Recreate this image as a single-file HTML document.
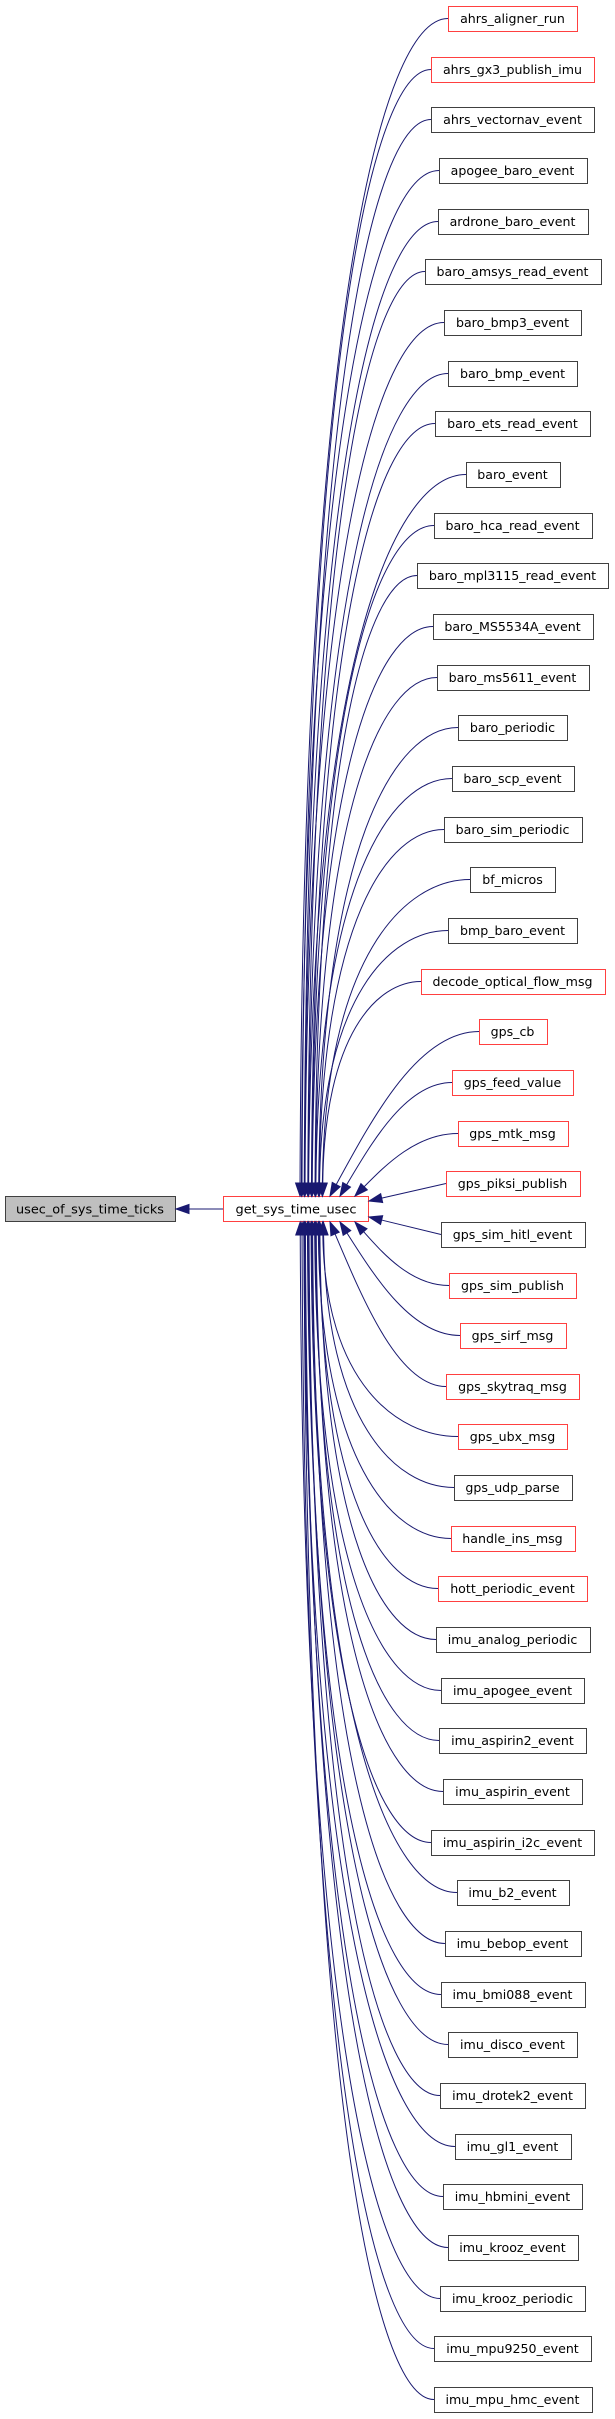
<!DOCTYPE html>
<html><head><meta charset="utf-8"><style>
html,body{margin:0;padding:0;background:#fff;}
svg{display:block;}
text{font-family:"DejaVu Sans","Liberation Sans",sans-serif;font-size:12.6px;fill:#000;}
</style></head><body>
<svg id="s" width="615" height="2419" xmlns="http://www.w3.org/2000/svg">
<rect x="5.5" y="1196.5" width="170" height="25" fill="#bfbfbf" stroke="#404040"/>
<text x="16" y="1213.5" textLength="148" lengthAdjust="spacingAndGlyphs">usec_of_sys_time_ticks</text>
<line x1="188" y1="1209" x2="223" y2="1209" stroke="#191970"/>
<polygon points="176,1209 189,1204.5 189,1213.5" fill="#191970" stroke="#191970"/>
<rect x="223.5" y="1196.5" width="145" height="25" fill="#fff" stroke="#ff4040"/>
<text x="235.5" y="1213.5" textLength="121" lengthAdjust="spacingAndGlyphs">get_sys_time_usec</text>
<g id="g"></g>
</svg>
<script>
(function(){
var names=["ahrs_aligner_run","ahrs_gx3_publish_imu","ahrs_vectornav_event","apogee_baro_event","ardrone_baro_event","baro_amsys_read_event","baro_bmp3_event","baro_bmp_event","baro_ets_read_event","baro_event","baro_hca_read_event","baro_mpl3115_read_event","baro_MS5534A_event","baro_ms5611_event","baro_periodic","baro_scp_event","baro_sim_periodic","bf_micros","bmp_baro_event","decode_optical_flow_msg","gps_cb","gps_feed_value","gps_mtk_msg","gps_piksi_publish","gps_sim_hitl_event","gps_sim_publish","gps_sirf_msg","gps_skytraq_msg","gps_ubx_msg","gps_udp_parse","handle_ins_msg","hott_periodic_event","imu_analog_periodic","imu_apogee_event","imu_aspirin2_event","imu_aspirin_event","imu_aspirin_i2c_event","imu_b2_event","imu_bebop_event","imu_bmi088_event","imu_disco_event","imu_drotek2_event","imu_gl1_event","imu_hbmini_event","imu_krooz_event","imu_krooz_periodic","imu_mpu9250_event","imu_mpu_hmc_event"];
var red={"ahrs_aligner_run":1,"ahrs_gx3_publish_imu":1,"decode_optical_flow_msg":1,"gps_cb":1,"gps_feed_value":1,"gps_mtk_msg":1,"gps_piksi_publish":1,"gps_sim_publish":1,"gps_sirf_msg":1,"gps_skytraq_msg":1,"gps_ubx_msg":1,"handle_ins_msg":1,"hott_periodic_event":1};
var g=document.getElementById('g'),h='';
var NS='http://www.w3.org/2000/svg';
var tmp=document.createElementNS(NS,'text');document.getElementById('s').appendChild(tmp);
for(var i=0;i<names.length;i++){
 var n=names[i];tmp.textContent=n;var tw=tmp.getComputedTextLength();
 var w=Math.round(tw+24);var cx=512.5;var x0=Math.round(cx-w/2);var ty=Math.round(6+50.66*i);var y0=ty+12.5;
 var d=i-23.5,ad=Math.abs(d),ex,ey,c1x,c1y,c2x,c2y;
 if(ad<1){ex=369;ey=d<0?1201:1217;c1x=x0;c1y=y0;c2x=x0;c2y=y0;}
 else{
  if(ad<2)ex=355;else if(ad<3)ex=340;else if(ad<4)ex=330;else ex=296+Math.max(4,30-ad*1.2)+(i%3)*2;
  ey=d<0?1196:1222;
  if(ad<4){c1x=x0-(x0-ex)*0.4;c1y=y0;c2x=ex+(x0-ex)*0.3;c2y=y0+(ey-y0)*0.5;}
  else{c1x=x0-(x0-ex)*0.45;c1y=y0;c2x=ex+(x0-ex)*0.02;c2y=y0+(ey-y0)*0.25;}
 }
 var dx=ex-c2x,dy=ey-c2y,L=Math.sqrt(dx*dx+dy*dy);dx/=L;dy/=L;
 var bx=ex-dx*13,by=ey-dy*13,px=-dy*4.5,py=dx*4.5;
 if(ad<1){h+='<line x1="'+x0+'" y1="'+y0+'" x2="'+bx+'" y2="'+by+'" stroke="#191970"/>';}
 else{h+='<path d="M'+x0+','+y0+' C'+c1x+','+c1y+' '+c2x+','+c2y+' '+bx+','+by+'" fill="none" stroke="#191970"/>';}
 h+='<polygon points="'+ex+','+ey+' '+(bx+px)+','+(by+py)+' '+(bx-px)+','+(by-py)+'" fill="#191970" stroke="#191970"/>';
 h+='<rect x="'+(x0+0.5)+'" y="'+(ty+0.5)+'" width="'+w+'" height="25" fill="#fff" stroke="'+(red[n]?'#ff4040':'#404040')+'"/>';
 h+='<text x="'+cx+'" y="'+(ty+17)+'" text-anchor="middle">'+n+'</text>';
}
tmp.parentNode.removeChild(tmp);
g.innerHTML=h;
})();
</script>
</body></html>
